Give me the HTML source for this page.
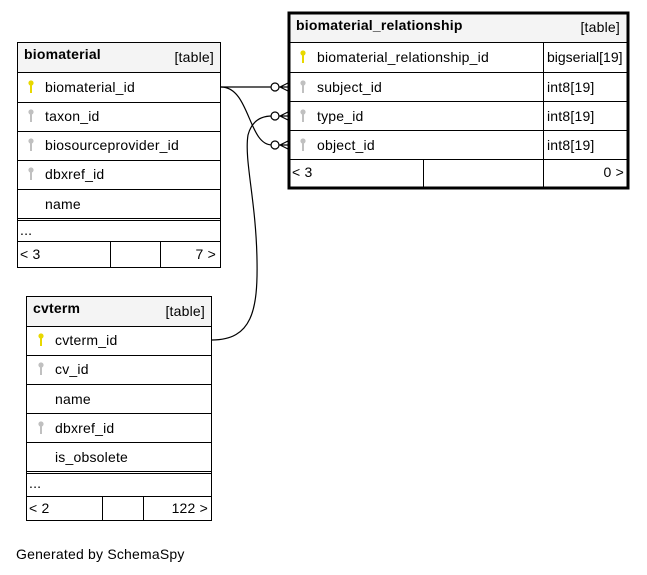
<!DOCTYPE html>
<html><head><style>
body{margin:0;background:#fff;}
svg{display:block;font-family:"Liberation Sans",Arial,sans-serif;font-size:14px;letter-spacing:0.2px;}
</style></head><body>
<svg width="647" height="575" viewBox="0 0 647 575">
<defs>
<g id="pk"><circle cx="0" cy="-4" r="2.6" fill="#e8d800"/><rect x="-1" y="-3" width="2" height="9" fill="#e8d800"/></g>
<g id="fk"><circle cx="0" cy="-4" r="2.6" fill="#c0c0c0"/><rect x="-1" y="-3" width="2" height="9" fill="#c0c0c0"/></g>
</defs>
<g fill="none" stroke="#000" stroke-width="1.2">
<path d="M221,87 L272,87"/>
<path d="M221,87 C250,87 248,145 272,145"/>
<path d="M212,340 C252,340 258,310 257,260 C256,200 244,160 248,135 C252,120 262,116 272,116"/>
</g>
<g fill="#fff" stroke="#000" stroke-width="1.2">
<circle cx="275" cy="87" r="4"/><circle cx="275" cy="116" r="4"/><circle cx="275" cy="145" r="4"/>
</g>
<g stroke="#000" stroke-width="1.2">
<path d="M279,87 L288,87 M280,87 L288,83 M280,87 L288,91"/>
<path d="M279,116 L288,116 M280,116 L288,112 M280,116 L288,120"/>
<path d="M279,145 L288,145 M280,145 L288,141 M280,145 L288,149"/>
</g>

<rect x="17.5" y="42.5" width="203" height="30" fill="#f4f4f4" stroke="#000"/>
<rect x="17.5" y="42.5" width="203" height="225" fill="none" stroke="#000"/>
<g stroke="#000"><path d="M17,102.5H221M17,131.5H221M17,160.5H221M17,189.5H221M17,218.5H221M17,220.5H221M17,241.5H221M110.5,241V268M160.5,241V268"/></g>
<text x="24" y="59" font-weight="bold">biomaterial</text>
<text x="214" y="62" text-anchor="end">[table]</text>
<use href="#pk" x="31" y="87"/><text x="45" y="92">biomaterial_id</text>
<use href="#fk" x="31" y="116"/><text x="45" y="121">taxon_id</text>
<use href="#fk" x="31" y="145"/><text x="45" y="150">biosourceprovider_id</text>
<use href="#fk" x="31" y="174"/><text x="45" y="179">dbxref_id</text>
<text x="45" y="209">name</text>
<text x="20" y="235">...</text>
<text x="20" y="259">&lt; 3</text>
<text x="216" y="259" text-anchor="end">7 &gt;</text>

<rect x="288" y="12" width="340" height="30" fill="#f4f4f4"/>
<rect x="289" y="13" width="339" height="175" fill="none" stroke="#000" stroke-width="3"/>
<g stroke="#000"><path d="M289,42.5H628M289,72.5H628M289,101.5H628M289,130.5H628M289,159.5H628M543.5,42V159M423.5,159V188M543.5,159V188"/></g>
<text x="296" y="30" font-weight="bold">biomaterial_relationship</text>
<text x="620" y="32" text-anchor="end">[table]</text>
<use href="#pk" x="303" y="57"/><text x="317" y="62">biomaterial_relationship_id</text><text x="547" y="62" letter-spacing="0">bigserial[19]</text>
<use href="#fk" x="303" y="87"/><text x="317" y="92">subject_id</text><text x="547" y="92">int8[19]</text>
<use href="#fk" x="303" y="116"/><text x="317" y="121">type_id</text><text x="547" y="121">int8[19]</text>
<use href="#fk" x="303" y="145"/><text x="317" y="150">object_id</text><text x="547" y="150">int8[19]</text>
<text x="292" y="177">&lt; 3</text>
<text x="624" y="177" text-anchor="end">0 &gt;</text>

<rect x="26.5" y="296.5" width="185" height="30" fill="#f4f4f4" stroke="#000"/>
<rect x="26.5" y="296.5" width="185" height="224" fill="none" stroke="#000"/>
<g stroke="#000"><path d="M26,355.5H212M26,384.5H212M26,413.5H212M26,442.5H212M26,471.5H212M26,473.5H212M26,496.5H212M102.5,496V520M143.5,496V520"/></g>
<text x="33" y="313" font-weight="bold">cvterm</text>
<text x="205" y="316" text-anchor="end">[table]</text>
<use href="#pk" x="41" y="340"/><text x="55" y="345">cvterm_id</text>
<use href="#fk" x="41" y="369"/><text x="55" y="374">cv_id</text>
<text x="55" y="404">name</text>
<use href="#fk" x="41" y="428"/><text x="55" y="433">dbxref_id</text>
<text x="55" y="462">is_obsolete</text>
<text x="29" y="488">...</text>
<text x="29" y="513">&lt; 2</text>
<text x="208" y="513" text-anchor="end">122 &gt;</text>

<text x="16" y="559">Generated by SchemaSpy</text>
</svg>
</body></html>
